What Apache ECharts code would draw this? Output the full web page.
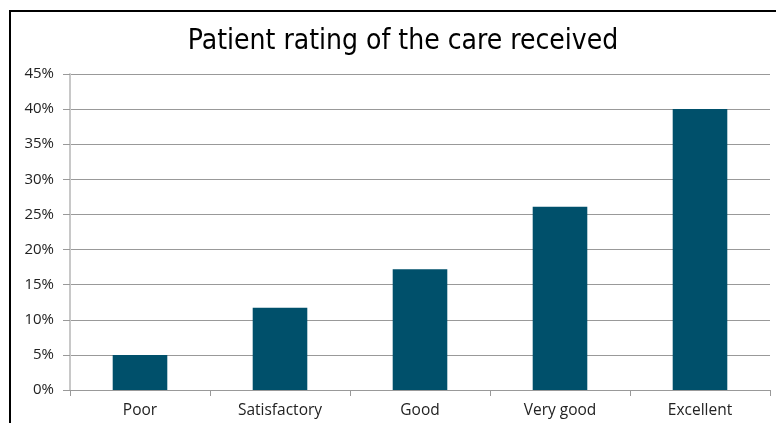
<!DOCTYPE html>
<html>
<head>
<meta charset="utf-8">
<script src="https://cdn.jsdelivr.net/npm/echarts@6/dist/echarts.min.js"></script>
<style>
  html, body { margin: 0; padding: 0; background: #fff; }
  #chart { width: 776px; height: 423px; }
  /* frame of the original chart object, runs off the right and bottom */
  .frame {
    position: absolute; left: 9px; top: 10px; width: 900px; height: 600px;
    border-left: 2px solid #000; border-top: 2px solid #000;
    pointer-events: none;
  }
</style>
</head>
<body>
<div id="chart"></div>
<div class="frame"></div>
<script>
// 数据
const categories = ['Poor', 'Satisfactory', 'Good', 'Very good', 'Excellent']
const ratings = [5, 11.7, 17.2, 26.1, 40]

const chart = echarts.init(document.getElementById('chart'))
chart.setOption({
  animation: false,
  title: {
    text: 'Patient rating of the care received',
    left: 398,
    textAlign: 'center',
    top: 23,
    textStyle: {
      fontFamily: '"Liberation Sans Narrow", "DejaVu Sans Condensed", "Liberation Sans", sans-serif',
      fontWeight: 'normal',
      fontSize: 28,
      color: '#000'
    }
  },
  grid: { left: 70, right: 6, top: 74, bottom: 33, containLabel: false },
  xAxis: {
    type: 'category',
    data: categories,
    axisLine: { lineStyle: { color: '#999', width: 1 } },
    axisTick: { show: true, length: 6, lineStyle: { color: '#999' } },
    axisLabel: {
      fontFamily: '"Open Sans", sans-serif',
      fontSize: 15.5,
      color: '#222',
      margin: 13
    }
  },
  yAxis: {
    type: 'value',
    min: 0,
    max: 45,
    interval: 5,
    axisLine: { show: true, lineStyle: { color: '#c8c8c8', width: 2 } },
    axisTick: { show: true, length: 7, lineStyle: { color: '#999' } },
    axisLabel: {
      formatter: '{value}%',
      fontFamily: '"Open Sans", sans-serif',
      fontSize: 15,
      color: '#222',
      margin: 16
    },
    splitLine: { lineStyle: { color: '#999', width: 1 } }
  },
  series: [
    {
      type: 'bar',
      data: ratings,
      barWidth: '39%',
      itemStyle: { color: '#00506b' }
    }
  ]
})
</script>
</body>
</html>
